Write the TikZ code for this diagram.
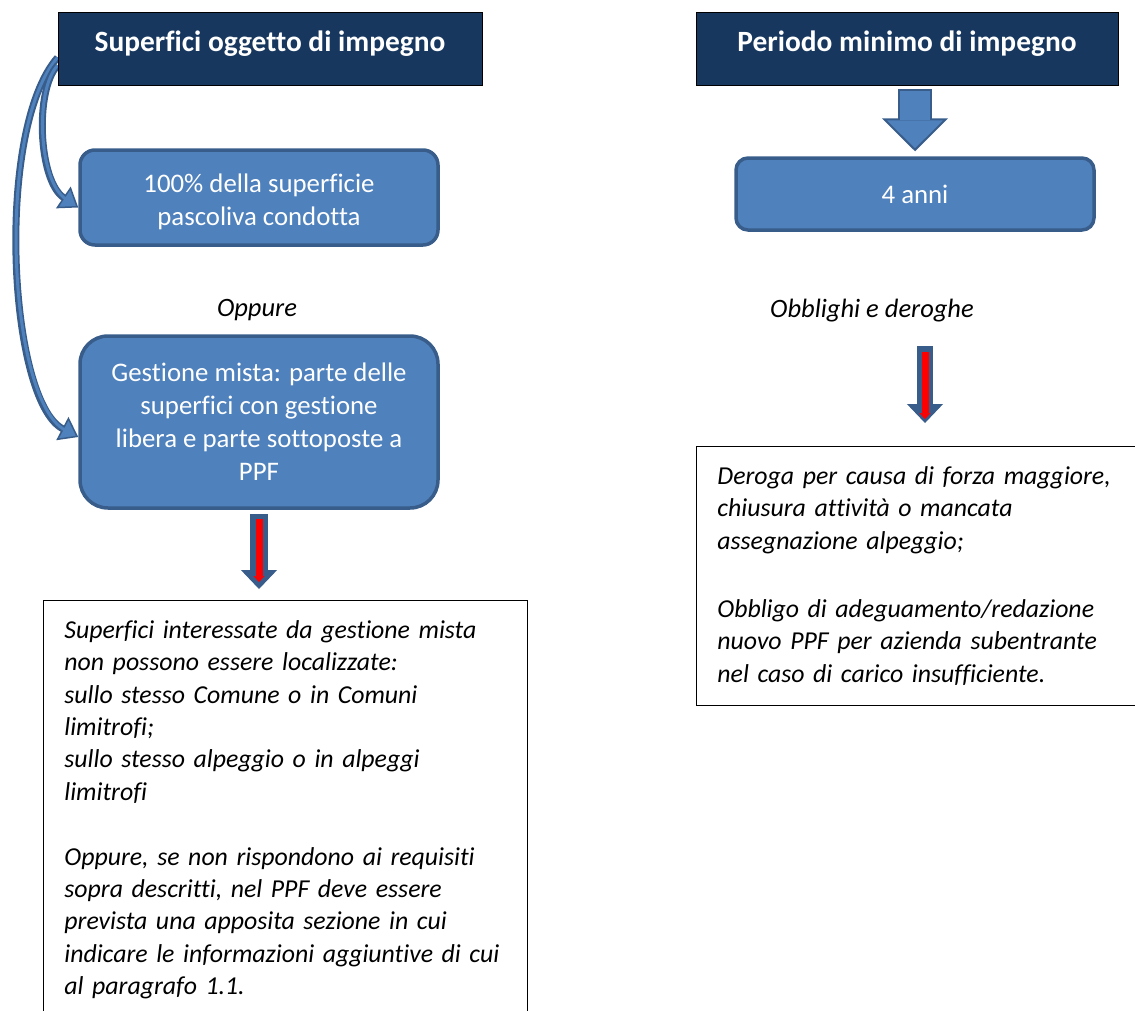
\documentclass[tikz,border=0pt]{standalone}
\usepackage{fontspec}
\setmainfont{Carlito}[Ligatures=CommonOff]
\usetikzlibrary{arrows.meta,backgrounds}
\definecolor{navy}{HTML}{17375E}
\definecolor{boxblue}{HTML}{4F81BD}
\definecolor{boxline}{HTML}{385D8A}
\begin{document}
\begin{tikzpicture}[x=1pt,y=-1pt,
    head/.style={draw=black,line width=0.8pt,fill=navy,text=white,minimum height=73pt,
      text height=21pt,text depth=15pt,font=\fontsize{29.4}{34}\selectfont\bfseries},
    bluebox/.style={draw=boxline,line width=3.5pt,fill=boxblue,text=white,align=center,
      minimum width=358pt,font=\fontsize{26.8}{33}\selectfont},
    note/.style={draw=black,line width=0.8pt,inner xsep=21pt,inner ysep=20pt,align=left,
      font=\itshape\fontsize{25.8}{32.4}\selectfont},
    curvy/.style={boxline,line width=7pt,-{Triangle[length=18pt,width=26pt,line width=1.5pt,fill=boxblue]}},
    curvyin/.style={boxblue,line width=3pt,shorten >=15pt},
    fatdown/.style={boxline,line width=34pt,shorten <=4pt,shorten >=5pt,
      -{Triangle[length=33pt,width=66pt,line width=2pt,fill=boxblue]}},
    redout/.style={boxline,line width=18pt,shorten <=4pt,shorten >=11pt,
      -{Triangle[length=19pt,width=36pt,line width=1pt,fill=boxline]}},
    redin/.style={red,line width=7pt,-{Triangle[length=6pt,width=11pt,line width=0.5pt]}}]
  \useasboundingbox (0,0) rectangle (1135,1010);
  \clip (0,0) rectangle (1135,1010);
  \draw
    (270,48.5) node[head,minimum width=424pt] (sup){Superfici oggetto di impegno}
    (907,48.5) node[head,minimum width=422pt] (per){Periodo minimo di impegno}
    (259,197.5) node[bluebox,minimum height=95pt,rounded corners=15pt] (full){\rule{0pt}{28pt}100\% della superficie\\pascoliva condotta}
    (259,422) node[bluebox,minimum height=172pt,rounded corners=28pt] (mixed){Gestione mista: parte delle\\superfici con gestione\\libera e parte sottoposte a\\PPF}
    (915,194) node[bluebox,minimum height=72pt,rounded corners=12pt] (anni){4 anni}
    (257,310.5) node[font=\itshape\fontsize{26.5}{32}\selectfont] (opp){Oppure}
    (872,311) node[font=\itshape\fontsize{26.5}{32}\selectfont] (obbl){Obblighi e deroghe};
  \node[note,anchor=north west,text width=442pt] (lbox) at (43,600)
    {Superfici interessate da gestione mista\\non possono essere localizzate:\\sullo stesso Comune o in Comuni\\limitrofi;\\sullo stesso alpeggio o in alpeggi\\limitrofi\\[32.4pt]Oppure, se non rispondono ai requisiti\\sopra descritti, nel PPF deve essere\\prevista una apposita sezione in cui\\indicare le informazioni aggiuntive di cui\\al paragrafo 1.1.};
  \node[note,anchor=north west,text width=420pt,minimum height=259pt] (rbox) at (696,446)
    {Deroga per causa di forza maggiore,\\chiusura attività o mancata\\assegnazione alpeggio;\\[35.8pt]Obbligo di adeguamento/redazione\\nuovo PPF per azienda subentrante\\nel caso di carico insufficiente.};
  \coordinate (rtop) at (925,346);
  \begin{scope}[on background layer]
    \draw[curvy] ([yshift=-9pt]sup.west) .. controls +(-63,72) and +(-70,-37) .. ([yshift=-15pt]mixed.west);
    \draw[curvyin] ([yshift=-9pt]sup.west) .. controls +(-63,72) and +(-70,-37) .. ([yshift=-15pt]mixed.west);
    \draw[curvy] ([yshift=-17pt]sup.west) .. controls +(-23,24) and +(-40,-27) .. ([yshift=-10pt]full.west);
    \draw[curvyin] ([yshift=-17pt]sup.west) .. controls +(-23,24) and +(-40,-27) .. ([yshift=-10pt]full.west);
  \end{scope}
  \draw[fatdown] (per.south -| anni.north) -- (anni.north);
  \draw[boxblue,line width=30pt,shorten <=6pt,shorten >=36pt] (per.south -| anni.north) -- (anni.north);
  \draw[redout] (mixed.south) -- (mixed.south |- lbox.north);
  \draw[redin,shorten <=9pt,shorten >=18pt] (mixed.south) -- (mixed.south |- lbox.north);
  \draw[redout,line width=16pt,shorten <=0pt,shorten >=23pt] (rtop) -- (rtop |- rbox.north);
  \draw[redin,shorten <=6pt,shorten >=27pt] (rtop) -- (rtop |- rbox.north);
\end{tikzpicture}
\end{document}
